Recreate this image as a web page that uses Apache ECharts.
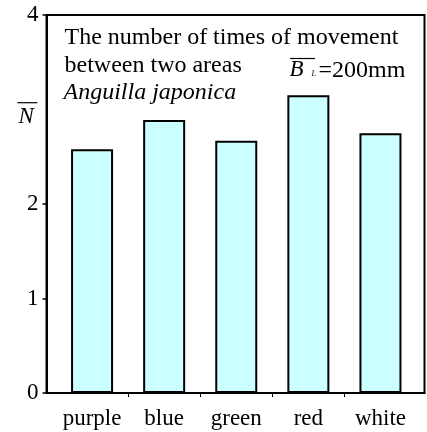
<!DOCTYPE html>
<html>
<head>
<meta charset="utf-8">
<script src="https://cdn.jsdelivr.net/npm/echarts@6/dist/echarts.min.js"></script>
<style>
html,body{margin:0;padding:0;background:#fff;}
#chart{width:427px;height:432px;}
</style>
</head>
<body>
<div id="chart"></div>
<script>
var categories = ['purple', 'blue', 'green', 'red', 'white'];
var meanCounts = [2.58, 2.89, 2.67, 3.15, 2.75];
var yTickValues = [0, 1, 2, 4];
var annotationLines = ['The number of times of movement', 'between two areas'];
var speciesName = 'Anguilla japonica';
var bodyLengthText = '=200mm';

var FONT = '"Liberation Serif", "Times New Roman", serif';
var chart = echarts.init(document.getElementById('chart'), null, {renderer: 'canvas'});

var barData = meanCounts.map(function (v, i) { return [i, v]; });

var option = {
  animation: false,
  backgroundColor: '#ffffff',
  grid: {
    left: 46.5, right: 2.5, top: 15, bottom: 39,
    show: true, borderColor: '#000', borderWidth: 2, backgroundColor: 'transparent'
  },
  xAxis: {
    type: 'value',
    min: -0.632,
    max: 4.611,
    splitLine: {show: false},
    axisLine: {show: true, onZero: false, lineStyle: {color: '#000', width: 2}},
    axisTick: {show: true, inside: false, length: 4, customValues: [0.5, 1.5, 2.5, 3.5],
      lineStyle: {color: '#000', width: 1}},
    axisLabel: {
      show: true, customValues: [0, 1, 2, 3, 4], margin: 14.5,
      color: '#000', fontFamily: FONT, fontSize: 23,
      formatter: function (v) { return categories[Math.round(v)]; }
    }
  },
  yAxis: {
    type: 'value',
    min: 0, max: 4, interval: 1,
    splitLine: {show: false},
    axisLine: {show: true, onZero: false, lineStyle: {color: '#000', width: 2}},
    axisTick: {show: true, inside: false, length: 4, customValues: yTickValues,
      lineStyle: {color: '#000', width: 1.5}},
    axisLabel: {
      show: true, customValues: yTickValues, margin: 8,
      color: '#000', fontFamily: FONT, fontSize: 23
    }
  },
  series: [{
    type: 'bar',
    data: barData,
    barWidth: 42,
    itemStyle: {color: '#ccffff', borderColor: '#000', borderWidth: 2}
  }],
  graphic: [
    {type: 'text', x: 64.5, y: 37.7, style: {text: annotationLines[0], font: '24px ' + FONT, fill: '#000', align: 'left', verticalAlign: 'middle'}},
    {type: 'text', x: 64.5, y: 65.4, style: {text: annotationLines[1], font: '24px ' + FONT, fill: '#000', align: 'left', verticalAlign: 'middle'}},
    {type: 'text', x: 63.5, y: 92.7, style: {text: speciesName, font: 'italic 24px ' + FONT, fill: '#000', align: 'left', verticalAlign: 'middle'}},
    {type: 'text', x: 289.5, y: 70.3, style: {text: 'B', font: 'italic 23px ' + FONT, fill: '#000', align: 'left', verticalAlign: 'middle'}},
    {type: 'text', x: 311.5, y: 74.3, style: {text: 'L', font: 'italic 8px ' + FONT, fill: '#000', align: 'left', verticalAlign: 'middle'}},
    {type: 'line', shape: {x1: 290, y1: 58.5, x2: 315, y2: 58.5}, style: {stroke: '#000', lineWidth: 1.2}},
    {type: 'text', x: 318.5, y: 70.3, style: {text: bodyLengthText, font: '24px ' + FONT, fill: '#000', align: 'left', verticalAlign: 'middle'}},
    {type: 'text', x: 18.5, y: 116.7, style: {text: 'N', font: 'italic 23px ' + FONT, fill: '#000', align: 'left', verticalAlign: 'middle'}},
    {type: 'line', shape: {x1: 17.3, y1: 102.7, x2: 37.3, y2: 102.7}, style: {stroke: '#000', lineWidth: 1.2}}
  ]
};
chart.setOption(option);
</script>
</body>
</html>
